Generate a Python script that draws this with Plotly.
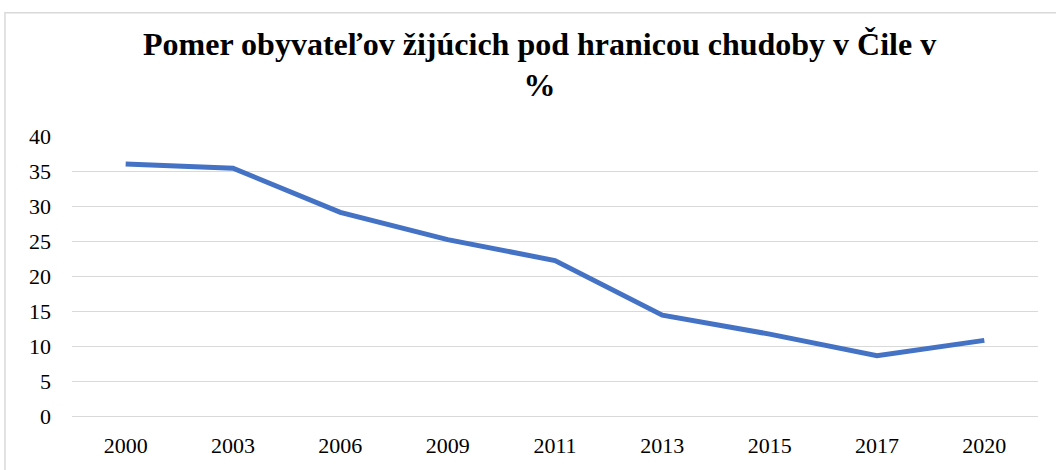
import plotly.graph_objects as go

years = ["2000", "2003", "2006", "2009", "2011", "2013", "2015", "2017", "2020"]
poverty_pct = [36.0, 35.4, 29.1, 25.2, 22.2, 14.4, 11.7, 8.6, 10.8]
y_ticks = [0, 5, 10, 15, 20, 25, 30, 35, 40]

fig = go.Figure()
fig.add_trace(go.Scatter(
    x=years, y=poverty_pct, mode="lines",
    line=dict(color="#4472C4", width=5),
    showlegend=False,
))

serif = "Liberation Serif, Times New Roman, serif"

fig.update_layout(
    width=1056, height=470,
    margin=dict(l=72, r=18, t=136, b=51),
    paper_bgcolor="white", plot_bgcolor="white",
    title=dict(
        text="<b>Pomer obyvateľov žijúcich pod hranicou chudoby v Čile v<br>%</b>",
        x=0.511, xanchor="center", y=0.884, yanchor="top",
        font=dict(family=serif, size=32, color="black"),
    ),
    xaxis=dict(
        type="category", range=[-0.5, 8.5], showgrid=False, showline=False, zeroline=False,
        tickfont=dict(family=serif, size=22, color="black"),
        ticks="", ticklabelstandoff=14,
    ),
    yaxis=dict(
        range=[0, 40], tickvals=y_ticks, showgrid=True,
        gridcolor="#D9D9D9", gridwidth=1.4, zeroline=True, zerolinecolor="#D9D9D9",
        zerolinewidth=1.4, showline=False,
        tickfont=dict(family=serif, size=22, color="black"),
        ticks="", ticklabelstandoff=20,
    ),
    shapes=[dict(
        type="rect", xref="paper", yref="paper",
        x0=-0.0694, x1=1.05, y0=-0.3, y1=1.44,
        line=dict(color="#D9D9D9", width=1.5), fillcolor="rgba(0,0,0,0)",
        layer="below",
    )],
)

fig.write_html(
    "out.html",
    config={"displayModeBar": False},
    post_script="document.body.style.margin='0';document.body.style.overflow='hidden';",
)
